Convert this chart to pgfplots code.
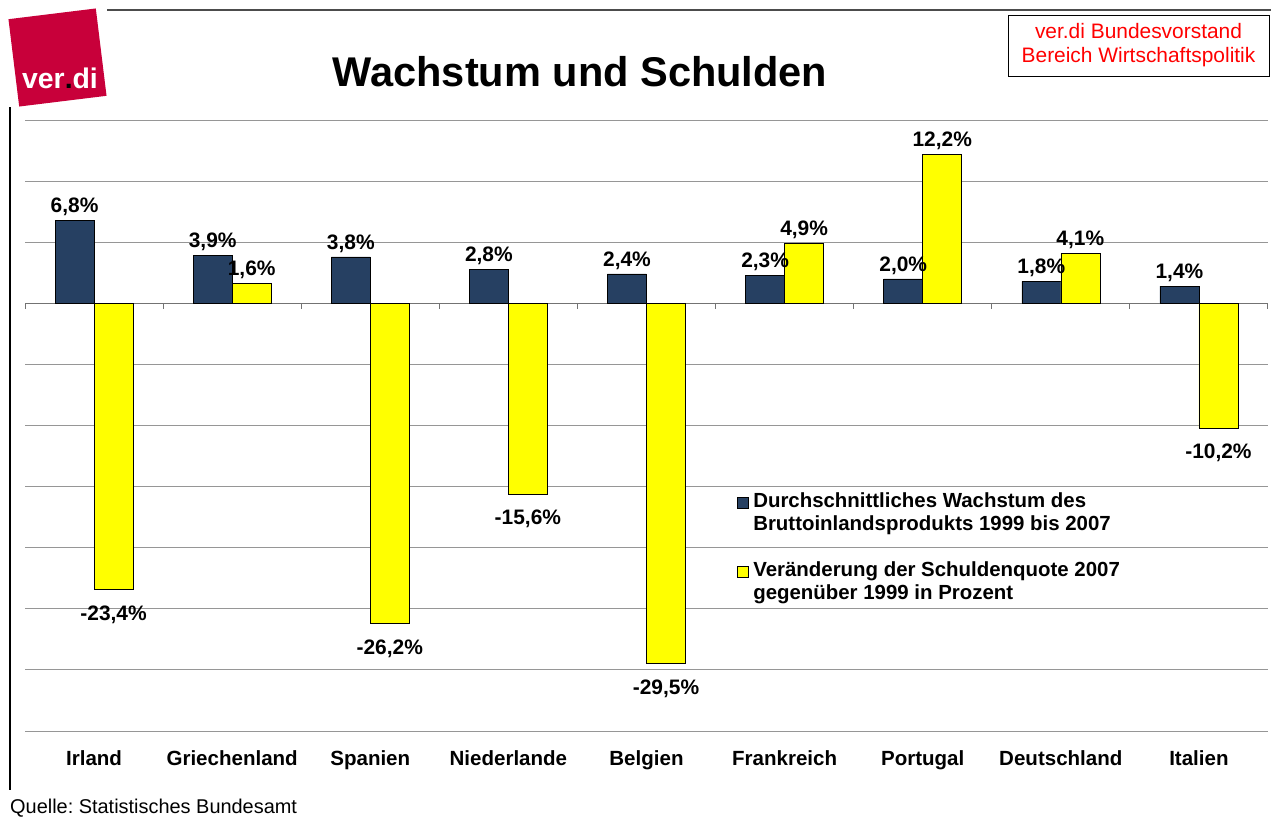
\documentclass[border=0pt]{standalone}
\usepackage{pgfplots}
\pgfplotsset{compat=1.18}
\usepackage{fontspec}
\setmainfont{Liberation Sans}
\frenchspacing
\definecolor{navy}{RGB}{38,64,98}
\definecolor{verdired}{RGB}{200,0,58}
\definecolor{gridgray}{RGB}{150,150,150}
\definecolor{baryellow}{RGB}{255,255,0}
\begin{document}
\begin{tikzpicture}
\path[use as bounding box] (0,0) rectangle (1271bp,-819bp);
% logo
\fill[verdired, rotate around={7:(57.5bp,-57.5bp)}] (13.5bp,-13.5bp) rectangle (101.5bp,-101.5bp);
\node[font=\fontsize{28.5}{30}\selectfont\bfseries, text=white] at (60bp,-78bp) {ver\textcolor{black}{.}di};
% frame lines
\draw[line width=1.5bp, black!70] (107bp,-10bp) -- (1271bp,-10bp);
\draw[line width=1.2bp] (10bp,-107bp) -- (10bp,-790bp);
% box top right
\draw[line width=0.8bp] (1008bp,-15bp) rectangle (1269bp,-76bp);
\node[align=center, text=red, font=\fontsize{21}{24}\selectfont] at (1138.5bp,-45.5bp) {ver.di Bundesvorstand\\Bereich Wirtschaftspolitik};
% title
\node[font=\fontsize{41.7}{45}\selectfont\bfseries] at (580bp,-72bp) {Wachstum und Schulden};
% source
\node[anchor=west, inner sep=0pt, font=\fontsize{20}{22}\selectfont] at (10bp,-808bp) {Quelle: Statistisches Bundesamt};
\begin{axis}[
  at={(25bp,-731bp)}, anchor=south west,
  scale only axis, width=1243bp, height=611bp,
  ybar=0pt, bar width=39bp,
  xmin=-0.5, xmax=8.5, ymin=-35, ymax=15,
  ytick={-35,-30,...,15}, yticklabels={},
  ymajorgrids, grid style={gridgray, line width=0.9bp},
  extra y ticks={0}, extra y tick labels={},
  extra y tick style={grid style={black!55, line width=1.1bp}},
  axis line style={draw=none},
  major tick length=0pt,
  xtick={0,...,8},
  xticklabels={Irland,Griechenland,Spanien,Niederlande,Belgien,Frankreich,Portugal,Deutschland,Italien},
  xticklabel style={font=\fontsize{20.6}{22}\selectfont\bfseries, yshift=-16bp},
  point meta=y,
  nodes near coords={\pgfmathprintnumber[fixed,fixed zerofill,precision=1,use comma,assume math mode=true]{\pgfplotspointmeta}\%},
  nodes near coords align={vertical},
  every node near coord/.append style={font=\fontsize{21}{22}\selectfont\bfseries, inner sep=3bp, text height=27.5bp, text depth=4.5bp, text=black},
  clip=false,
  legend style={at={(0.5728,0.3925)}, anchor=north west, draw=none, fill=none,
    font=\fontsize{20.5}{22}\selectfont\bfseries, row sep=0pt, column sep=3.5bp, inner sep=0pt,
    nodes={inner sep=1bp, text height=15.5bp, text depth=5.5bp}},
  legend cell align=left,
]
\addplot[fill=navy, draw=black, line width=0.6bp, bar shift=-19.5bp,
  legend image code/.code={\draw[fill=navy, draw=black, line width=0.6bp] (0bp,-5.5bp) rectangle (11bp,5.5bp);}]
  coordinates {(0,6.8) (1,3.9) (2,3.8) (3,2.8) (4,2.4) (5,2.3) (6,2.0) (7,1.8) (8,1.4)};
\addlegendentry{Durchschnittliches Wachstum des}
\addlegendimage{empty legend}\addlegendentry{Bruttoinlandsprodukts 1999 bis 2007}
\addlegendimage{empty legend}\addlegendentry{\rule{0pt}{18.5bp}}
\addplot[fill=baryellow, draw=black, line width=0.6bp, bar shift=19.5bp,
  legend image code/.code={\draw[fill=baryellow, draw=black, line width=0.6bp] (0bp,-5.5bp) rectangle (11bp,5.5bp);}]
  coordinates {(0,-23.4) (1,1.6) (2,-26.2) (3,-15.6) (4,-29.5) (5,4.9) (6,12.2) (7,4.1) (8,-10.2)};
\addlegendentry{Veränderung der Schuldenquote 2007}
\addlegendimage{empty legend}\addlegendentry{gegenüber 1999 in Prozent}
\pgfplotsinvokeforeach{-0.5,0.5,1.5,2.5,3.5,4.5,5.5,6.5,7.5,8.5}{
  \draw[black!55, line width=1bp] (axis cs:#1,0) -- ++(0bp,-6bp);
}
\end{axis}
\end{tikzpicture}
\end{document}
